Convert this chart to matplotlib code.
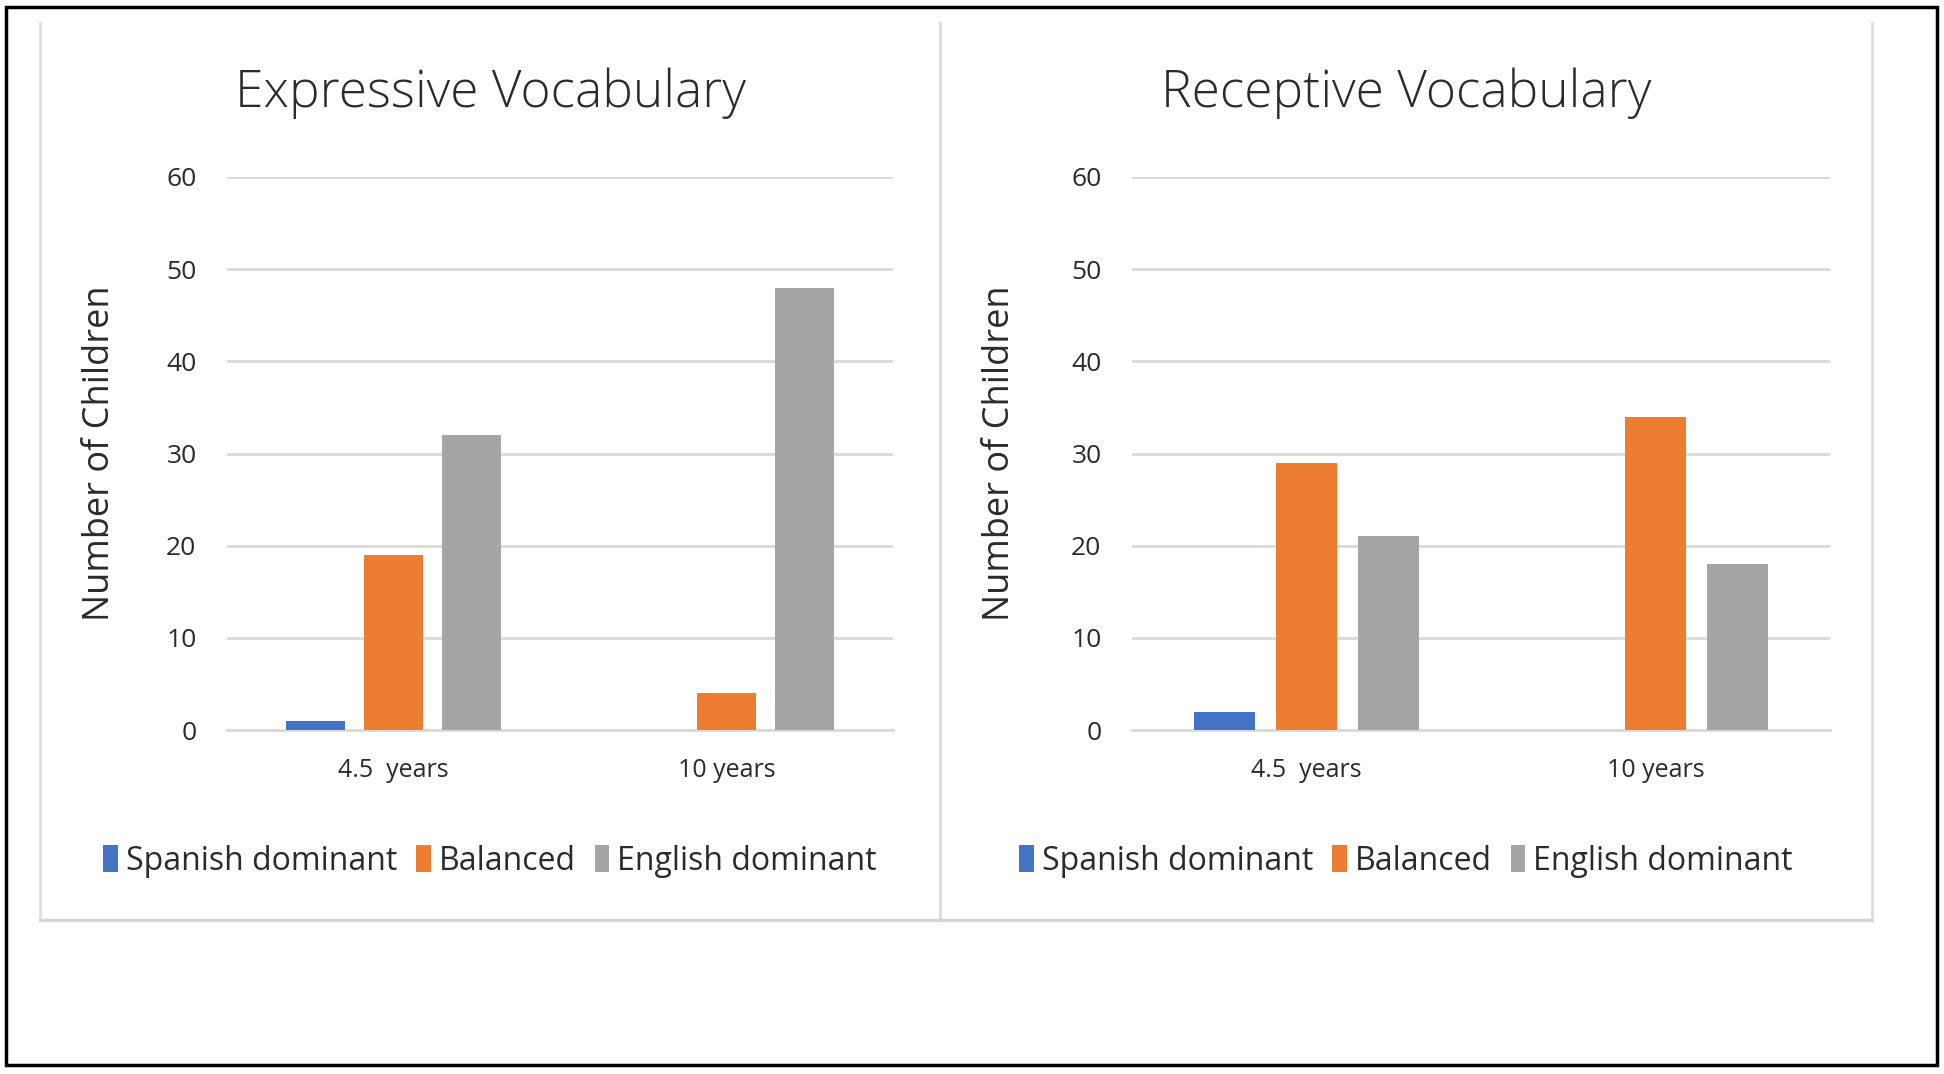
import matplotlib.pyplot as plt
from matplotlib.lines import Line2D
from matplotlib.patches import Patch, Rectangle
import numpy as np

plt.rcParams["font.family"] = ["Open Sans", "DejaVu Sans"]

categories = ["4.5  years", "10 years"]
series = ["Spanish dominant", "Balanced", "English dominant"]
expressive = {
    "Spanish dominant": [1, 0],
    "Balanced": [19, 4],
    "English dominant": [32, 48],
}
receptive = {
    "Spanish dominant": [2, 0],
    "Balanced": [29, 34],
    "English dominant": [21, 18],
}
titles = ["Expressive Vocabulary", "Receptive Vocabulary"]
yticks = [0, 10, 20, 30, 40, 50, 60]

COLORS = {
    "Spanish dominant": "#4472C4",
    "Balanced": "#ED7D31",
    "English dominant": "#A5A5A5",
}
TXT = "#2b2b2b"
GRID = "#d9d9d9"

W, H = 1944, 1074
fig = plt.figure(figsize=(W / 100, H / 100), dpi=100)
fig.patch.set_facecolor("white")

# plot areas in pixels
ax_px = [(227, 893), (1132, 1830)]
top_px, bot_px = 177, 730
panel_px = [(40, 940), (940, 1872)]

bar_w = 0.175
step = 0.234

for i, (data, title) in enumerate(zip([expressive, receptive], titles)):
    l, r = ax_px[i]
    ax = fig.add_axes([l / W, 1 - bot_px / H, (r - l) / W, (bot_px - top_px) / H])
    x = np.arange(len(categories))
    for j, s in enumerate(series):
        ax.bar(x + (j - 1) * step, data[s], width=bar_w, color=COLORS[s],
               zorder=3, label=s)
    ax.set_xlim(-0.5, len(categories) - 0.5)
    ax.set_ylim(0, 60)
    ax.set_yticks(yticks)
    ax.set_xticks(x)
    ax.set_xticklabels(categories)
    ax.grid(axis="y", color=GRID, linewidth=2, zorder=0)
    ax.set_axisbelow(True)
    for sp in ["top", "right", "left"]:
        ax.spines[sp].set_visible(False)
    ax.spines["bottom"].set_color(GRID)
    ax.spines["bottom"].set_linewidth(2)
    ax.spines["bottom"].set_zorder(0)
    ax.tick_params(axis="both", length=0, labelsize=18, colors=TXT)
    ax.tick_params(axis="y", labelsize=19, pad=22)
    ax.tick_params(axis="x", pad=20)
    ax.set_ylabel("Number of Children", fontsize=26, color=TXT)
    ax.yaxis.set_label_coords(-0.163, 0.5)

    pl, pr = panel_px[i]
    cx = (pl + pr) / 2 / W
    fig.text(cx, 1 - 93 / H, title, ha="center", va="center", fontsize=37,
             fontweight="light", color=TXT)
    handles = [Patch(facecolor=COLORS[s], edgecolor="none") for s in series]
    fig.legend(handles, series, loc="center", bbox_to_anchor=(cx, 1 - 861 / H),
               ncol=3, frameon=False, fontsize=23, handlelength=0.45,
               handleheight=0.9, handletextpad=0.25, columnspacing=0.6,
               labelcolor=TXT)

# light panel borders (left, right, bottom)
for pl, pr in panel_px:
    fig.add_artist(Line2D([pl / W, pl / W], [1 - 23 / H, 1 - 920 / H],
                          color="#dedede", linewidth=2))
    fig.add_artist(Line2D([pr / W, pr / W], [1 - 23 / H, 1 - 920 / H],
                          color="#dedede", linewidth=2))
    fig.add_artist(Line2D([pl / W, pr / W], [1 - 920 / H, 1 - 920 / H],
                          color="#d6d6d6", linewidth=2.5))

# outer black frame
fig.add_artist(Rectangle((6 / W, 1 - 1065 / H), (1937 - 6) / W, (1065 - 7) / H,
                         transform=fig.transFigure, fill=False,
                         edgecolor="black", linewidth=2.5))

fig.savefig("out.png", dpi=100, facecolor="white")
